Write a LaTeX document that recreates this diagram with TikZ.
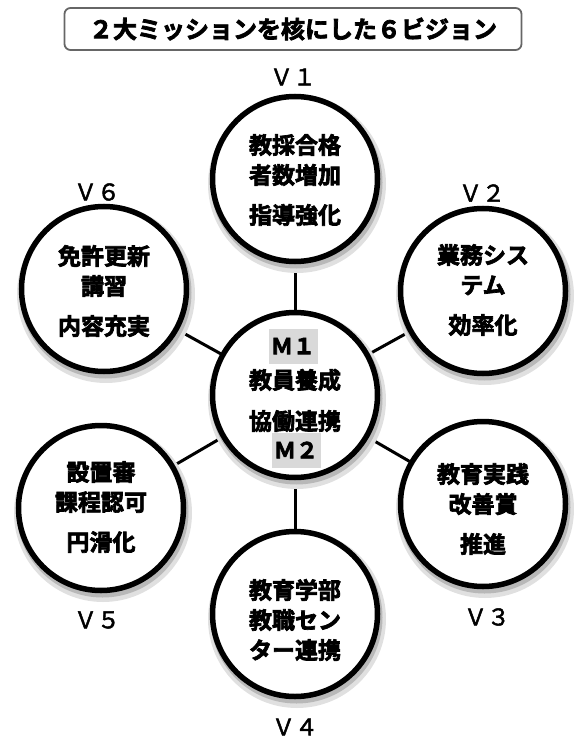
\documentclass[tikz,border=0pt]{standalone}
\usepackage{fontspec}
\newfontfamily\jpb[FakeBold=3]{Noto Sans CJK JP Bold}
\newfontfamily\jpr[FakeBold=2]{Noto Sans CJK JP}
\begin{document}
\begin{tikzpicture}[x=1pt,y=-1pt]
\tikzset{
  vis/.style={circle,draw=black,line width=5.5pt,fill=white,minimum size=165pt,inner sep=0pt},
  shadA/.style={circle,fill=black!12,minimum size=178pt,inner sep=0pt,draw=none},
  shadB/.style={circle,fill=black!28,minimum size=172pt,inner sep=0pt,draw=none},
  txt/.style={font=\jpb\fontsize{23}{30}\selectfont,align=center,inner sep=0pt},
  lab/.style={font=\jpr\fontsize{23}{26}\selectfont,inner sep=0pt},
  conn/.style={line width=3pt,draw=black},
  mbox/.style={fill=black!15,font=\jpb\fontsize{22}{24}\selectfont,inner xsep=2.5pt,inner ysep=0pt,minimum height=35pt}
}
\useasboundingbox (0,0) rectangle (573,738);
% title
\node[draw=black!60,line width=1.8pt,rounded corners=6pt,minimum width=457pt,minimum height=42pt,font=\jpb\fontsize{24}{26}\selectfont] (title) at (293,29) {２大ミッションを核にした６ビジョン};
% coordinates
\coordinate (c0) at (295,395);
\coordinate (c1) at (295,179);
\coordinate (c2) at (483,291);
\coordinate (c3) at (483,504);
\coordinate (c4) at (295,614);
\coordinate (c5) at (101,508);
\coordinate (c6) at (104,289);
% connectors
\foreach \i in {1,...,6} {\draw[conn] (c0) -- (c\i);}
% shadows
\foreach \i in {0,...,6} {
  \node[shadA] (sa\i) at ([shift={(2,5)}]c\i) {};
  \node[shadB] (sb\i) at ([shift={(1.5,3.5)}]c\i) {};
}
% circles
\node[vis] (m) at (c0) {};
\node[vis] (v1) at (c1) {};
\node[vis] (v2) at (c2) {};
\node[vis] (v3) at (c3) {};
\node[vis] (v4) at (c4) {};
\node[vis] (v5) at (c5) {};
\node[vis] (v6) at (c6) {};
% texts
\node[txt] (t1) at (295,180) {教採合格\\者数増加\\[10pt]指導強化};
\node[txt] (t2) at (483,290) {業務シス\\テム\\[10pt]効率化};
\node[txt] (t3) at (483,509) {教育実践\\改善賞\\[10pt]推進};
\node[txt] (t4) at (295,620) {教育学部\\教職セン\\ター連携};
\node[txt] (t5) at (101,507) {設置審\\課程認可\\[10pt]円滑化};
\node[txt] (t6) at (104,291) {免許更新\\講習\\[10pt]内容充実};
\node[mbox] (m1) at (293,346) {Ｍ１};
\node[txt] (m1t) at (295,380) {教員養成};
\node[txt] (m2t) at (295,421) {協働連携};
\node[mbox] (m2) at (296,450) {Ｍ２};
% labels
\node[lab] (l1) at (293,77) {Ｖ１};
\node[lab] (l2) at (482,193) {Ｖ２};
\node[lab] (l3) at (487,617) {Ｖ３};
\node[lab] (l4) at (295,727) {Ｖ４};
\node[lab] (l5) at (97,620) {Ｖ５};
\node[lab] (l6) at (97,192) {Ｖ６};
\end{tikzpicture}
\end{document}
